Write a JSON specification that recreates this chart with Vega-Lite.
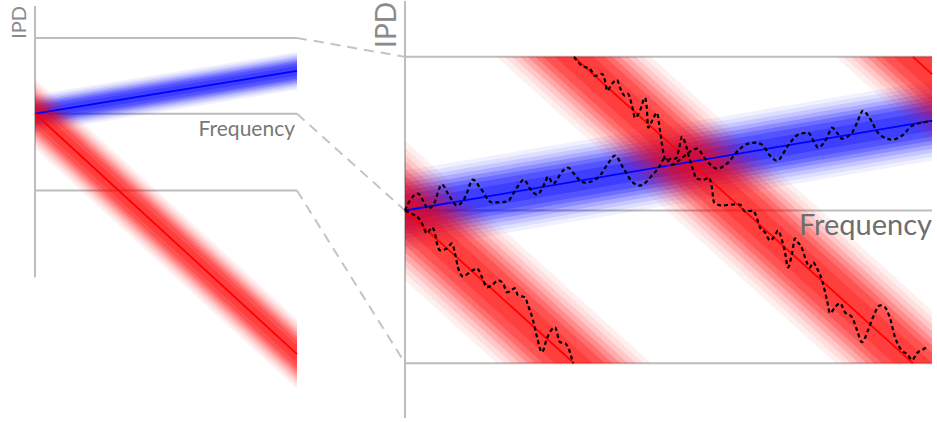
{
  "$schema": "https://vega.github.io/schema/vega-lite/v6.json",
  "width": 937,
  "height": 422,
  "autosize": {"type": "fit", "contains": "padding"},
  "padding": 0,
  "background": "white",
  "config": {"view": {"stroke": null}},
  "datasets": {
    "blueBands": [
      {"g": "LB1", "k": 1, "x": 35, "y": 94, "y2": 132}, {"g": "LB1", "k": 1, "x": 297, "y": 51, "y2": 89},
      {"g": "LB2", "k": 2, "x": 35, "y": 95.9, "y2": 130.1}, {"g": "LB2", "k": 2, "x": 297, "y": 52.9, "y2": 87.1},
      {"g": "LB3", "k": 3, "x": 35, "y": 97.8, "y2": 128.2}, {"g": "LB3", "k": 3, "x": 297, "y": 54.8, "y2": 85.2},
      {"g": "LB4", "k": 4, "x": 35, "y": 99.7, "y2": 126.3}, {"g": "LB4", "k": 4, "x": 297, "y": 56.7, "y2": 83.3},
      {"g": "LB5", "k": 5, "x": 35, "y": 101.6, "y2": 124.4}, {"g": "LB5", "k": 5, "x": 297, "y": 58.6, "y2": 81.4},
      {"g": "LB6", "k": 6, "x": 35, "y": 103.5, "y2": 122.5}, {"g": "LB6", "k": 6, "x": 297, "y": 60.5, "y2": 79.5},
      {"g": "LB7", "k": 7, "x": 35, "y": 105.4, "y2": 120.6}, {"g": "LB7", "k": 7, "x": 297, "y": 62.4, "y2": 77.6},
      {"g": "LB8", "k": 8, "x": 35, "y": 108.25, "y2": 117.75}, {"g": "LB8", "k": 8, "x": 297, "y": 65.25, "y2": 74.75},
      {"g": "RB1", "k": 1, "x": 405, "y": 170, "y2": 250}, {"g": "RB1", "k": 1, "x": 932, "y": 80, "y2": 160},
      {"g": "RB2", "k": 2, "x": 405, "y": 174, "y2": 246}, {"g": "RB2", "k": 2, "x": 932, "y": 84, "y2": 156},
      {"g": "RB3", "k": 3, "x": 405, "y": 178, "y2": 242}, {"g": "RB3", "k": 3, "x": 932, "y": 88, "y2": 152},
      {"g": "RB4", "k": 4, "x": 405, "y": 182, "y2": 238}, {"g": "RB4", "k": 4, "x": 932, "y": 92, "y2": 148},
      {"g": "RB5", "k": 5, "x": 405, "y": 186, "y2": 234}, {"g": "RB5", "k": 5, "x": 932, "y": 96, "y2": 144},
      {"g": "RB6", "k": 6, "x": 405, "y": 190, "y2": 230}, {"g": "RB6", "k": 6, "x": 932, "y": 100, "y2": 140},
      {"g": "RB7", "k": 7, "x": 405, "y": 194, "y2": 226}, {"g": "RB7", "k": 7, "x": 932, "y": 104, "y2": 136},
      {"g": "RB8", "k": 8, "x": 405, "y": 200, "y2": 220}, {"g": "RB8", "k": 8, "x": 932, "y": 110, "y2": 130}
    ],
    "redBands": [
      {"g": "LR1", "k": 1, "x": 35, "y": 78, "y2": 148}, {"g": "LR1", "k": 1, "x": 297, "y": 319, "y2": 389},
      {"g": "LR2", "k": 2, "x": 35, "y": 81.5, "y2": 144.5}, {"g": "LR2", "k": 2, "x": 297, "y": 322.5, "y2": 385.5},
      {"g": "LR3", "k": 3, "x": 35, "y": 85, "y2": 141}, {"g": "LR3", "k": 3, "x": 297, "y": 326, "y2": 382},
      {"g": "LR4", "k": 4, "x": 35, "y": 88.5, "y2": 137.5}, {"g": "LR4", "k": 4, "x": 297, "y": 329.5, "y2": 378.5},
      {"g": "LR5", "k": 5, "x": 35, "y": 92, "y2": 134}, {"g": "LR5", "k": 5, "x": 297, "y": 333, "y2": 375},
      {"g": "LR6", "k": 6, "x": 35, "y": 95.5, "y2": 130.5}, {"g": "LR6", "k": 6, "x": 297, "y": 336.5, "y2": 371.5},
      {"g": "LR7", "k": 7, "x": 35, "y": 99, "y2": 127}, {"g": "LR7", "k": 7, "x": 297, "y": 340, "y2": 368},
      {"g": "LR8", "k": 8, "x": 35, "y": 104.25, "y2": 121.75}, {"g": "LR8", "k": 8, "x": 297, "y": 345.25, "y2": 362.75},

      {"g": "A1", "k": 1, "x": 405, "y": 140, "y2": 280}, {"g": "A1", "k": 1, "x": 496.6, "y": 223, "y2": 363}, {"g": "A1", "k": 1, "x": 651.2, "y": 363, "y2": 363},
      {"g": "A2", "k": 2, "x": 405, "y": 147, "y2": 273}, {"g": "A2", "k": 2, "x": 504.4, "y": 237, "y2": 363}, {"g": "A2", "k": 2, "x": 643.5, "y": 363, "y2": 363},
      {"g": "A3", "k": 3, "x": 405, "y": 154, "y2": 266}, {"g": "A3", "k": 3, "x": 512.1, "y": 251, "y2": 363}, {"g": "A3", "k": 3, "x": 635.8, "y": 363, "y2": 363},
      {"g": "A4", "k": 4, "x": 405, "y": 161, "y2": 259}, {"g": "A4", "k": 4, "x": 519.8, "y": 265, "y2": 363}, {"g": "A4", "k": 4, "x": 628.0, "y": 363, "y2": 363},
      {"g": "A5", "k": 5, "x": 405, "y": 168, "y2": 252}, {"g": "A5", "k": 5, "x": 527.6, "y": 279, "y2": 363}, {"g": "A5", "k": 5, "x": 620.3, "y": 363, "y2": 363},
      {"g": "A6", "k": 6, "x": 405, "y": 175, "y2": 245}, {"g": "A6", "k": 6, "x": 535.3, "y": 293, "y2": 363}, {"g": "A6", "k": 6, "x": 612.6, "y": 363, "y2": 363},
      {"g": "A7", "k": 7, "x": 405, "y": 182, "y2": 238}, {"g": "A7", "k": 7, "x": 543.0, "y": 307, "y2": 363}, {"g": "A7", "k": 7, "x": 604.9, "y": 363, "y2": 363},
      {"g": "A8", "k": 8, "x": 405, "y": 192.5, "y2": 227.5}, {"g": "A8", "k": 8, "x": 554.6, "y": 328, "y2": 363}, {"g": "A8", "k": 8, "x": 593.3, "y": 363, "y2": 363},

      {"g": "B1", "k": 1, "x": 496.6, "y": 56, "y2": 56}, {"g": "B1", "k": 1, "x": 651.2, "y": 56, "y2": 196}, {"g": "B1", "k": 1, "x": 835.6, "y": 223, "y2": 363}, {"g": "B1", "k": 1, "x": 932, "y": 310.25, "y2": 363},
      {"g": "B2", "k": 2, "x": 504.4, "y": 56, "y2": 56}, {"g": "B2", "k": 2, "x": 643.5, "y": 56, "y2": 182}, {"g": "B2", "k": 2, "x": 843.4, "y": 237, "y2": 363}, {"g": "B2", "k": 2, "x": 932, "y": 317.25, "y2": 363},
      {"g": "B3", "k": 3, "x": 512.1, "y": 56, "y2": 56}, {"g": "B3", "k": 3, "x": 635.8, "y": 56, "y2": 168}, {"g": "B3", "k": 3, "x": 851.1, "y": 251, "y2": 363}, {"g": "B3", "k": 3, "x": 932, "y": 324.25, "y2": 363},
      {"g": "B4", "k": 4, "x": 519.8, "y": 56, "y2": 56}, {"g": "B4", "k": 4, "x": 628.0, "y": 56, "y2": 154}, {"g": "B4", "k": 4, "x": 858.8, "y": 265, "y2": 363}, {"g": "B4", "k": 4, "x": 932, "y": 331.25, "y2": 363},
      {"g": "B5", "k": 5, "x": 527.6, "y": 56, "y2": 56}, {"g": "B5", "k": 5, "x": 620.3, "y": 56, "y2": 140}, {"g": "B5", "k": 5, "x": 866.6, "y": 279, "y2": 363}, {"g": "B5", "k": 5, "x": 932, "y": 338.25, "y2": 363},
      {"g": "B6", "k": 6, "x": 535.3, "y": 56, "y2": 56}, {"g": "B6", "k": 6, "x": 612.6, "y": 56, "y2": 126}, {"g": "B6", "k": 6, "x": 874.3, "y": 293, "y2": 363}, {"g": "B6", "k": 6, "x": 932, "y": 345.25, "y2": 363},
      {"g": "B7", "k": 7, "x": 543.0, "y": 56, "y2": 56}, {"g": "B7", "k": 7, "x": 604.9, "y": 56, "y2": 112}, {"g": "B7", "k": 7, "x": 882.0, "y": 307, "y2": 363}, {"g": "B7", "k": 7, "x": 932, "y": 352.25, "y2": 363},
      {"g": "B8", "k": 8, "x": 554.6, "y": 56, "y2": 56}, {"g": "B8", "k": 8, "x": 593.3, "y": 56, "y2": 91}, {"g": "B8", "k": 8, "x": 893.6, "y": 328, "y2": 363}, {"g": "B8", "k": 8, "x": 932, "y": 362.75, "y2": 363},

      {"g": "C1", "k": 1, "x": 835.6, "y": 56, "y2": 56}, {"g": "C1", "k": 1, "x": 932, "y": 56, "y2": 143.25},
      {"g": "C2", "k": 2, "x": 843.4, "y": 56, "y2": 56}, {"g": "C2", "k": 2, "x": 932, "y": 56, "y2": 136.25},
      {"g": "C3", "k": 3, "x": 851.1, "y": 56, "y2": 56}, {"g": "C3", "k": 3, "x": 932, "y": 56, "y2": 129.25},
      {"g": "C4", "k": 4, "x": 858.8, "y": 56, "y2": 56}, {"g": "C4", "k": 4, "x": 932, "y": 56, "y2": 122.25},
      {"g": "C5", "k": 5, "x": 866.6, "y": 56, "y2": 56}, {"g": "C5", "k": 5, "x": 932, "y": 56, "y2": 115.25},
      {"g": "C6", "k": 6, "x": 874.3, "y": 56, "y2": 56}, {"g": "C6", "k": 6, "x": 932, "y": 56, "y2": 108.25},
      {"g": "C7", "k": 7, "x": 882.0, "y": 56, "y2": 56}, {"g": "C7", "k": 7, "x": 932, "y": 56, "y2": 101.25},
      {"g": "C8", "k": 8, "x": 893.6, "y": 56, "y2": 56}, {"g": "C8", "k": 8, "x": 932, "y": 56, "y2": 90.75}
    ],
    "centerBlue": [
      {"g": "L", "x": 35, "y": 113}, {"g": "L", "x": 297, "y": 70},
      {"g": "R", "x": 405, "y": 210}, {"g": "R", "x": 932, "y": 120}
    ],
    "centerRed": [
      {"g": "L", "x": 35, "y": 113}, {"g": "L", "x": 297, "y": 354},
      {"g": "R1", "x": 405, "y": 210}, {"g": "R1", "x": 573.9, "y": 363},
      {"g": "R2", "x": 573.9, "y": 56}, {"g": "R2", "x": 912.9, "y": 363},
      {"g": "R3", "x": 912.9, "y": 56}, {"g": "R3", "x": 932, "y": 73.25}
    ],
    "solidLines": [
      {"x": 35, "y": 5, "x2": 35, "y2": 277},
      {"x": 35, "y": 37, "x2": 297, "y2": 37},
      {"x": 35, "y": 113, "x2": 297, "y2": 113},
      {"x": 35, "y": 190, "x2": 297, "y2": 190},
      {"x": 405, "y": 0, "x2": 405, "y2": 418},
      {"x": 405, "y": 56, "x2": 932, "y2": 56},
      {"x": 405, "y": 210, "x2": 932, "y2": 210},
      {"x": 405, "y": 363, "x2": 932, "y2": 363}
    ],
    "dashedLines": [
      {"x": 297, "y": 37, "x2": 405, "y2": 56},
      {"x": 297, "y": 113, "x2": 405, "y2": 210},
      {"x": 297, "y": 190, "x2": 405, "y2": 363}
    ],
    "noisy": [
      {"g": "B", "x": 405, "y": 210}, {"g": "B", "x": 410, "y": 200}, {"g": "B", "x": 418, "y": 193}, {"g": "B", "x": 423, "y": 200}, {"g": "B", "x": 428, "y": 208}, {"g": "B", "x": 433, "y": 205}, {"g": "B", "x": 442, "y": 184}, {"g": "B", "x": 448, "y": 193}, {"g": "B", "x": 457, "y": 205}, {"g": "B", "x": 465, "y": 197}, {"g": "B", "x": 473, "y": 179}, {"g": "B", "x": 480, "y": 187}, {"g": "B", "x": 492, "y": 202}, {"g": "B", "x": 507, "y": 201}, {"g": "B", "x": 517, "y": 187}, {"g": "B", "x": 524, "y": 179}, {"g": "B", "x": 530, "y": 188}, {"g": "B", "x": 537, "y": 194}, {"g": "B", "x": 545, "y": 182}, {"g": "B", "x": 548, "y": 176}, {"g": "B", "x": 553, "y": 183}, {"g": "B", "x": 563, "y": 170}, {"g": "B", "x": 568, "y": 167}, {"g": "B", "x": 573, "y": 172}, {"g": "B", "x": 578, "y": 178}, {"g": "B", "x": 585, "y": 182}, {"g": "B", "x": 598, "y": 177}, {"g": "B", "x": 608, "y": 163}, {"g": "B", "x": 615, "y": 155}, {"g": "B", "x": 623, "y": 167}, {"g": "B", "x": 633, "y": 182}, {"g": "B", "x": 640, "y": 185}, {"g": "B", "x": 652, "y": 175}, {"g": "B", "x": 660, "y": 165}, {"g": "B", "x": 665, "y": 157}, {"g": "B", "x": 672, "y": 164}, {"g": "B", "x": 680, "y": 159}, {"g": "B", "x": 690, "y": 151}, {"g": "B", "x": 697, "y": 148}, {"g": "B", "x": 705, "y": 158}, {"g": "B", "x": 717, "y": 168}, {"g": "B", "x": 728, "y": 162}, {"g": "B", "x": 738, "y": 150}, {"g": "B", "x": 748, "y": 143}, {"g": "B", "x": 755, "y": 142}, {"g": "B", "x": 762, "y": 144}, {"g": "B", "x": 770, "y": 155}, {"g": "B", "x": 777, "y": 160}, {"g": "B", "x": 788, "y": 145}, {"g": "B", "x": 798, "y": 134}, {"g": "B", "x": 808, "y": 132}, {"g": "B", "x": 815, "y": 143}, {"g": "B", "x": 818, "y": 147}, {"g": "B", "x": 827, "y": 137}, {"g": "B", "x": 832, "y": 127}, {"g": "B", "x": 837, "y": 132}, {"g": "B", "x": 842, "y": 138}, {"g": "B", "x": 852, "y": 132}, {"g": "B", "x": 857, "y": 122}, {"g": "B", "x": 863, "y": 110}, {"g": "B", "x": 870, "y": 118}, {"g": "B", "x": 878, "y": 132}, {"g": "B", "x": 892, "y": 139}, {"g": "B", "x": 902, "y": 135}, {"g": "B", "x": 912, "y": 125}, {"g": "B", "x": 922, "y": 122}, {"g": "B", "x": 932, "y": 120},

      {"g": "R1", "x": 405, "y": 210}, {"g": "R1", "x": 411, "y": 213}, {"g": "R1", "x": 418, "y": 217}, {"g": "R1", "x": 422, "y": 223}, {"g": "R1", "x": 427, "y": 233}, {"g": "R1", "x": 432, "y": 227}, {"g": "R1", "x": 435, "y": 233}, {"g": "R1", "x": 437, "y": 243}, {"g": "R1", "x": 440, "y": 250}, {"g": "R1", "x": 447, "y": 248}, {"g": "R1", "x": 452, "y": 243}, {"g": "R1", "x": 455, "y": 253}, {"g": "R1", "x": 458, "y": 267}, {"g": "R1", "x": 463, "y": 276}, {"g": "R1", "x": 470, "y": 272}, {"g": "R1", "x": 477, "y": 268}, {"g": "R1", "x": 482, "y": 277}, {"g": "R1", "x": 487, "y": 287}, {"g": "R1", "x": 492, "y": 285}, {"g": "R1", "x": 498, "y": 280}, {"g": "R1", "x": 503, "y": 283}, {"g": "R1", "x": 507, "y": 292}, {"g": "R1", "x": 515, "y": 288}, {"g": "R1", "x": 518, "y": 295}, {"g": "R1", "x": 525, "y": 297}, {"g": "R1", "x": 528, "y": 305}, {"g": "R1", "x": 533, "y": 320}, {"g": "R1", "x": 537, "y": 337}, {"g": "R1", "x": 542, "y": 352}, {"g": "R1", "x": 547, "y": 338}, {"g": "R1", "x": 555, "y": 327}, {"g": "R1", "x": 560, "y": 342}, {"g": "R1", "x": 565, "y": 343}, {"g": "R1", "x": 568, "y": 347}, {"g": "R1", "x": 573, "y": 363},

      {"g": "R2", "x": 574, "y": 56}, {"g": "R2", "x": 582, "y": 65}, {"g": "R2", "x": 590, "y": 68}, {"g": "R2", "x": 595, "y": 75}, {"g": "R2", "x": 602, "y": 73}, {"g": "R2", "x": 605, "y": 80}, {"g": "R2", "x": 607, "y": 90}, {"g": "R2", "x": 612, "y": 83}, {"g": "R2", "x": 617, "y": 79}, {"g": "R2", "x": 620, "y": 87}, {"g": "R2", "x": 625, "y": 95}, {"g": "R2", "x": 628, "y": 93}, {"g": "R2", "x": 632, "y": 105}, {"g": "R2", "x": 635, "y": 117}, {"g": "R2", "x": 640, "y": 110}, {"g": "R2", "x": 645, "y": 97}, {"g": "R2", "x": 647, "y": 110}, {"g": "R2", "x": 648, "y": 127}, {"g": "R2", "x": 653, "y": 118}, {"g": "R2", "x": 657, "y": 112}, {"g": "R2", "x": 660, "y": 130}, {"g": "R2", "x": 663, "y": 150}, {"g": "R2", "x": 666, "y": 160}, {"g": "R2", "x": 672, "y": 158}, {"g": "R2", "x": 676, "y": 158}, {"g": "R2", "x": 679, "y": 148}, {"g": "R2", "x": 682, "y": 136}, {"g": "R2", "x": 686, "y": 145}, {"g": "R2", "x": 690, "y": 160}, {"g": "R2", "x": 694, "y": 172}, {"g": "R2", "x": 696, "y": 178}, {"g": "R2", "x": 704, "y": 179}, {"g": "R2", "x": 709, "y": 177}, {"g": "R2", "x": 712, "y": 188}, {"g": "R2", "x": 714, "y": 202}, {"g": "R2", "x": 722, "y": 205}, {"g": "R2", "x": 733, "y": 204}, {"g": "R2", "x": 740, "y": 204}, {"g": "R2", "x": 745, "y": 211}, {"g": "R2", "x": 753, "y": 210}, {"g": "R2", "x": 757, "y": 218}, {"g": "R2", "x": 760, "y": 227}, {"g": "R2", "x": 765, "y": 232}, {"g": "R2", "x": 770, "y": 240}, {"g": "R2", "x": 775, "y": 235}, {"g": "R2", "x": 778, "y": 230}, {"g": "R2", "x": 782, "y": 240}, {"g": "R2", "x": 785, "y": 252}, {"g": "R2", "x": 788, "y": 267}, {"g": "R2", "x": 792, "y": 253}, {"g": "R2", "x": 795, "y": 238}, {"g": "R2", "x": 798, "y": 242}, {"g": "R2", "x": 802, "y": 248}, {"g": "R2", "x": 805, "y": 257}, {"g": "R2", "x": 810, "y": 267}, {"g": "R2", "x": 813, "y": 262}, {"g": "R2", "x": 817, "y": 268}, {"g": "R2", "x": 822, "y": 280}, {"g": "R2", "x": 827, "y": 300}, {"g": "R2", "x": 830, "y": 313}, {"g": "R2", "x": 835, "y": 307}, {"g": "R2", "x": 840, "y": 303}, {"g": "R2", "x": 845, "y": 312}, {"g": "R2", "x": 852, "y": 317}, {"g": "R2", "x": 857, "y": 330}, {"g": "R2", "x": 862, "y": 342}, {"g": "R2", "x": 868, "y": 330}, {"g": "R2", "x": 873, "y": 317}, {"g": "R2", "x": 880, "y": 305}, {"g": "R2", "x": 885, "y": 307}, {"g": "R2", "x": 890, "y": 318}, {"g": "R2", "x": 895, "y": 337}, {"g": "R2", "x": 900, "y": 348}, {"g": "R2", "x": 908, "y": 355}, {"g": "R2", "x": 912, "y": 360}, {"g": "R2", "x": 917, "y": 353}, {"g": "R2", "x": 925, "y": 348}, {"g": "R2", "x": 928, "y": 345}
    ]
  },
  "encoding": {
    "x": {"field": "x", "type": "quantitative", "scale": {"domain": [0, 937], "nice": false, "zero": false}, "axis": null},
    "y": {"field": "y", "type": "quantitative", "scale": {"domain": [0, 422], "reverse": true, "nice": false, "zero": false}, "axis": null}
  },
  "layer": [
    {
      "data": {"name": "solidLines"},
      "mark": {"type": "rule", "color": "#bdbdbd", "strokeWidth": 2},
      "encoding": {"x2": {"field": "x2"}, "y2": {"field": "y2"}}
    },
    {
      "data": {"name": "dashedLines"},
      "mark": {"type": "rule", "color": "#c4c4c4", "strokeWidth": 2, "strokeDash": [10, 7]},
      "encoding": {"x2": {"field": "x2"}, "y2": {"field": "y2"}}
    },
    {
      "data": {"name": "blueBands"},
      "mark": {"type": "area", "orient": "vertical", "color": "#0000ff"},
      "encoding": {
        "y2": {"field": "y2"},
        "detail": {"field": "g"},
        "opacity": {"field": "k", "type": "quantitative", "scale": {"type": "linear", "domain": [1, 2, 3, 4, 5, 6, 7, 8], "range": [0.06, 0.0745, 0.103, 0.141, 0.179, 0.218, 0.233, 0.242]}, "legend": null}
      }
    },
    {
      "data": {"name": "redBands"},
      "mark": {"type": "area", "orient": "vertical", "color": "#ff0000"},
      "encoding": {
        "y2": {"field": "y2"},
        "detail": {"field": "g"},
        "opacity": {"field": "k", "type": "quantitative", "scale": {"type": "linear", "domain": [1, 2, 3, 4, 5, 6, 7, 8], "range": [0.06, 0.0745, 0.103, 0.141, 0.179, 0.218, 0.233, 0.242]}, "legend": null}
      }
    },
    {
      "data": {"name": "centerBlue"},
      "mark": {"type": "line", "color": "#0000ff", "strokeWidth": 1.8},
      "encoding": {"detail": {"field": "g"}}
    },
    {
      "data": {"name": "centerRed"},
      "mark": {"type": "line", "color": "#ff0000", "strokeWidth": 1.8},
      "encoding": {"detail": {"field": "g"}}
    },
    {
      "data": {"name": "noisy"},
      "mark": {"type": "line", "color": "#000000", "strokeWidth": 2.2, "strokeDash": [4, 3], "interpolate": "monotone"},
      "encoding": {"detail": {"field": "g"}}
    },
    {
      "data": {"values": [{"label": "IPD", "x": 26, "y": 5}]},
      "mark": {"type": "text", "angle": 270, "align": "right", "baseline": "alphabetic", "font": "Lato", "fontSize": 20, "color": "#8a8a8a"},
      "encoding": {"text": {"field": "label"}}
    },
    {
      "data": {"values": [{"label": "IPD", "x": 396, "y": 1}]},
      "mark": {"type": "text", "angle": 270, "align": "right", "baseline": "alphabetic", "font": "Lato", "fontSize": 28, "color": "#8a8a8a"},
      "encoding": {"text": {"field": "label"}}
    },
    {
      "data": {"values": [{"label": "Frequency", "x": 295, "y": 135}]},
      "mark": {"type": "text", "align": "right", "baseline": "alphabetic", "font": "Lato", "fontSize": 21, "color": "#777777"},
      "encoding": {"text": {"field": "label"}}
    },
    {
      "data": {"values": [{"label": "Frequency", "x": 932, "y": 235}]},
      "mark": {"type": "text", "align": "right", "baseline": "alphabetic", "font": "Lato", "fontSize": 29, "color": "#6e6e6e"},
      "encoding": {"text": {"field": "label"}}
    }
  ]
}
